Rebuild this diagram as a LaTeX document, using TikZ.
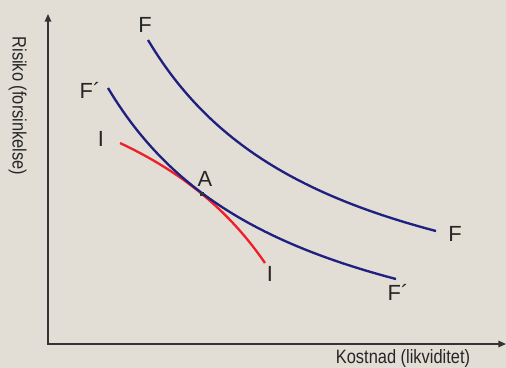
\documentclass[tikz,border=0pt]{standalone}
\usepackage{fontspec}
\setmainfont{Liberation Sans}
\newfontfamily\narrowsans[FakeStretch=0.85]{Liberation Sans}
\usetikzlibrary{arrows.meta}
\definecolor{chartbg}{HTML}{E2DED5}
\definecolor{frontblue}{HTML}{202080}
\definecolor{indiffred}{HTML}{F0202A}
\definecolor{axisgray}{HTML}{333333}
\tikzset{
    axis/.style={draw=axisgray,line width=1.3pt,{Triangle[length=6.5pt,width=5.5pt]}-{Triangle[length=6.5pt,width=5.5pt]}},
    front/.style={draw=frontblue,line width=2pt},
    indiff/.style={draw=indiffred,line width=2pt},
    curvelabel/.style={inner sep=0pt,text=black!85,font=\fontsize{18.7}{22}\selectfont},
    axislabel/.style={inner sep=0pt,anchor=base,text=black!85,font=\narrowsans\fontsize{16.5}{19}\selectfont},
    tangpt/.style={fill=axisgray,inner sep=0pt,minimum size=3.5pt},
}

\begin{document}
\begin{tikzpicture}[x=0.03cm,y=-0.03cm]
    \fill[chartbg] (0,0) rectangle (506,368);
    \useasboundingbox (0,0) rectangle (506,368);
    \coordinate (O) at (48,344);
    \coordinate (ytop) at (48,14);
    \coordinate (xend) at (506,344);
    \draw[axis] (ytop) -- (O) -- (xend);
    \node[axislabel,rotate=-90] (ylab) at (12.7,106) {Risiko (forsinkelse)};
    \node[axislabel] (xlab) at (403,363.5) {Kostnad (likviditet)};
    \draw[indiff] plot[domain=120:265,samples=60] (\x,{-14.7+529.33/((455.6-\x)/100)});
    \foreach \dx/\dy in {0/0,-40/48}
        \draw[front,shift={(\dx,\dy)}] plot[domain=148:436,samples=80] (\x,{356.3-597.48/((\x+40.9)/100)});
    \node[tangpt] (A) at (202,194) {};
    \node[curvelabel] (Atxt) at (205,179) {A};
    \node[curvelabel] (Ftop) at (145,25) {F};
    \node[curvelabel] (Fend) at (455,234) {F};
    \node[curvelabel] (Fptop) at (90,90) {F´};
    \node[curvelabel] (Fpend) at (398,292) {F´};
    \node[curvelabel] (Itop) at (101,139) {I};
    \node[curvelabel] (Iend) at (270,274) {I};
\end{tikzpicture}
\end{document}
